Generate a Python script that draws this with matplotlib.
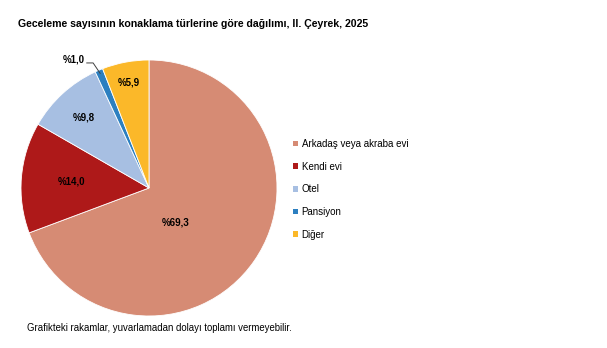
import numpy as np
import matplotlib
matplotlib.use("Agg")
import matplotlib.pyplot as plt
from matplotlib.patches import Patch

categories = ["Arkadaş veya akraba evi", "Kendi evi", "Otel", "Pansiyon", "Diğer"]
values = [69.3, 14.0, 9.8, 1.0, 5.9]
labels = ["%69,3", "%14,0", "%9,8", "%1,0", "%5,9"]
colors = ["#D68B74", "#AE1919", "#A7BFE2", "#2C7FC0", "#FBB829"]

plt.rcParams['font.family'] = ['Liberation Sans', 'DejaVu Sans']

fig = plt.figure(figsize=(6.07, 3.48), dpi=100)
ax = fig.add_axes([21/607, 32/348, 256/607, 256/348])

wedges, _ = ax.pie(values, colors=colors, startangle=90, counterclock=False,
                   radius=1.0, wedgeprops=dict(linewidth=0.6, edgecolor='white'))
ax.set_xlim(-1, 1)
ax.set_ylim(-1, 1)
ax.set_aspect('equal')

# label distance / angle shift per slice
dists = [0.34, 0.61, 0.75, None, 0.84]
shifts = [-17, 0, 0, 0, 0]
for w, lab, d, s in zip(wedges, labels, dists, shifts):
    th = np.deg2rad((w.theta1 + w.theta2) / 2 + s)
    if d is None:
        # small slice: label outside, leader line bent once
        tx, ty = -0.59, 1.0
        ex, ey = 0.97 * np.cos(th), 0.97 * np.sin(th)
        ly = ty - 0.023
        cx = ex - (ly - ey) / np.tan(np.deg2rad(56))
        ax.plot([tx + 0.10, cx, ex], [ly, ly, ey], color='#404040', lw=0.7,
                clip_on=False, solid_capstyle='butt')
        ax.text(tx, ty, lab, fontsize=7, fontweight='bold', ha='center', va='center')
    else:
        ax.text(d * np.cos(th), d * np.sin(th), lab, fontsize=7,
                fontweight='bold', ha='center', va='center')

fig.text(18/607, 1 - 24/348, "Geceleme sayısının konaklama türlerine göre dağılımı, II. Çeyrek, 2025",
         fontsize=7.6, fontweight='bold', ha='left', va='center')
fig.text(27/607, 1 - 328/348, "Grafikteki rakamlar, yuvarlamadan dolayı toplamı vermeyebilir.",
         fontsize=6.9, ha='left', va='center')

handles = [Patch(facecolor=c, edgecolor='none') for c in colors]
fig.legend(handles, categories, loc='upper left', bbox_to_anchor=(293/607, 1 - 139/348),
           frameon=False, fontsize=7, handlelength=0.55, handleheight=0.55,
           handletextpad=0.35, labelspacing=1.3, borderpad=0, borderaxespad=0)

fig.savefig("out.png", dpi=100)
